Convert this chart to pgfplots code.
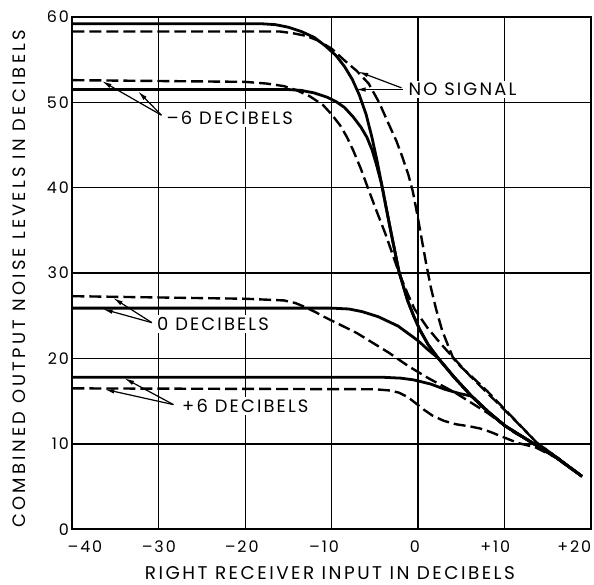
\documentclass[border=0pt]{standalone}
\usepackage{fontspec}
\setmainfont{Poppins}
\newfontfamily\lbl[LetterSpace=12]{Poppins}
\newfontfamily\xlbl[LetterSpace=13.5]{Poppins}
\newfontfamily\ylbl[LetterSpace=18]{Poppins}
\usepackage{pgfplots}
\pgfplotsset{compat=1.18}
\usetikzlibrary{arrows.meta}
\tikzset{
  solidc/.style={black, line width=2.8bp, line join=round},
  dashc/.style={black, line width=2.4bp, line join=round, dash pattern=on 12bp off 5bp},
  ann/.style={-{Latex[length=10bp,width=4.5bp]}, line width=1.2bp, black},
  atext/.style={anchor=west, fill=white, inner sep=2.5bp, font=\lbl\fontsize{18}{20}\selectfont},
}
\newcommand{\tlleft}[2]{\makebox[0pt][c]{#2\kern#1}}
\newcommand{\tlright}[2]{\makebox[0pt][c]{\kern#1#2}}
\begin{document}
\begin{tikzpicture}
\path (-72.5bp,-55bp) rectangle (521.5bp,530bp);
\begin{axis}[
  at={(0,0)}, anchor=south west,
  scale only axis, width=519bp, height=513bp,
  xmin=-40, xmax=20, ymin=0, ymax=60,
  xtick={-40,-30,-20,-10,0,10,20},
  xticklabels={\tlright{25bp}{–40},–30,\tlleft{7bp}{–20},\tlleft{15bp}{–10},\tlleft{6bp}{0},\tlleft{18bp}{+10},\tlleft{33bp}{+20}},
  ytick={0,10,20,30,40,50,60},
  yticklabels={0,10,20,30,40,50,60},
  major tick length=0pt,
  grid=major,
  grid style={black, line width=1.3bp},
  axis line style={black, line width=2.2bp},
  tick label style={font=\lbl\fontsize{16}{18}\selectfont},
  xticklabel style={anchor=center, yshift=-17.5bp},
  xlabel={RIGHT RECEIVER INPUT IN DECIBELS},
  ylabel={COMBINED OUTPUT NOISE LEVELS IN DECIBELS},
  xlabel style={font=\xlbl\fontsize{18.5}{20}\selectfont, inner sep=0pt, at={(axis description cs:0.497,-0.0848)}, anchor=center},
  ylabel style={font=\ylbl\fontsize{18}{20}\selectfont, inner sep=0pt, at={(axis description cs:-0.103,0.489)}, anchor=center},
]
% No signal, solid
\addplot[solidc] coordinates {(-40,59.2) (-18,59.2) (-16.5,59.1) (-15,58.8) (-13.5,58.3) (-12,57.6) (-10.7,56.6) (-9.5,55.5) (-8.5,54.2) (-7.6,52.7) (-6.8,50.9) (-6.0,48.6) (-5.3,45.8) (-4.7,43.0) (-4.2,40.4) (-3.2,35.2) (-2.2,30.2) (-1.2,26.8) (-0.5,25.0) (0.2,23.4) (1.2,21.6) (2.3,20.1) (4.2,17.8) (6.2,15.6) (8.2,13.7) (10.1,12.1) (12.0,10.9) (13.6,9.9) (16.0,8.4) (19.0,6.2)};
% -6 dB, solid
\addplot[solidc] coordinates {(-40,51.5) (-15,51.5) (-13.5,51.4) (-12,51.1) (-10.5,50.6) (-9.5,50.1) (-8.5,49.4) (-7.5,48.3) (-6.6,47.1) (-5.9,45.9) (-5.3,44.4) (-4.8,42.7) (-4.2,40.4) (-3.2,35.2) (-2.2,30.2) (-1.2,26.8) (-0.5,25.0) (0.2,23.4) (1.2,21.6) (2.3,20.1) (4.2,17.8) (6.2,15.6) (8.2,13.7) (10.1,12.1) (12.0,10.9) (13.6,9.9) (16.0,8.4) (19.0,6.2)};
% 0 dB, solid
\addplot[solidc] coordinates {(-40,25.9) (-10,25.9) (-8,25.8) (-6.5,25.5) (-4.6,24.9) (-2.3,23.8) (0,22.1) (1.2,21.0) (2.3,20.1) (4.2,17.8) (6.2,15.6) (8.2,13.7) (10.1,12.1) (12.0,10.9) (13.6,9.9) (16.0,8.4) (19.0,6.2)};
% +6 dB, solid
\addplot[solidc] coordinates {(-40,17.8) (-4,17.8) (-2,17.7) (-0.5,17.5) (1.5,17.0) (3.1,16.4) (4.8,15.9) (6.2,15.6) (8.2,13.7) (10.1,12.1) (12.0,10.9) (13.6,9.9) (16.0,8.4) (19.0,6.2)};
% No signal, dashed
\addplot[dashc] coordinates {(-40,58.3) (-16,58.3) (-14.5,58.1) (-13,57.8) (-11.7,57.3) (-10,56.3) (-8.6,55.0) (-7.1,53.7) (-5.7,52.2) (-4.5,50.0) (-3.4,47.5) (-2.5,45.5) (-1.8,43.6) (-1.1,41.5) (-0.6,39.6) (-0.1,37.0) (0.4,34.2) (0.9,31.4) (1.5,28.3) (2.1,25.8) (2.8,23.3) (3.5,21.5) (4.1,20.0) (5,19.0) (6,18.1) (8,16.2) (10.1,14.0) (12,12.0) (13.8,10.1) (16,8.5) (19,6.2)};
% -6 dB, dashed
\addplot[dashc] coordinates {(-40,52.6) (-20,52.4) (-17.5,52.2) (-15.5,51.9) (-14,51.4) (-12.5,50.7) (-11,49.7) (-10,48.6) (-9,47.3) (-8.2,45.9) (-7.5,44.4) (-6.6,42.2) (-5.8,40.0) (-4.8,37.3) (-3.8,34.7) (-2.9,32.1) (-2.1,29.8) (-1.2,27.6) (-0.4,25.8) (1.1,23.6) (2.5,21.9) (4.0,20.2) (6.0,18.0) (8.3,15.7) (11,13.0) (13.8,10.1) (16,8.5) (19,6.2)};
% 0 dB, dashed
\addplot[dashc] coordinates {(-40,27.3) (-20,27.0) (-15.5,26.8) (-14.2,26.5) (-13,26.0) (-11.8,25.4) (-10.9,24.9) (-7.1,23.0) (-3.4,20.7) (-1.1,19.1) (1.2,17.7) (4.3,16.0) (8.1,13.6) (11.2,11.3) (13.7,9.9) (16,8.5) (19,6.2)};
% +6 dB, dashed
\addplot[dashc] coordinates {(-40,16.5) (-5,16.4) (-3.2,16.25) (-2.2,16.0) (-1.2,15.5) (-0.3,14.8) (0.7,14.0) (1.7,13.3) (3.0,12.7) (4.4,12.3) (6,12.05) (7.2,11.8) (8.4,11.4) (9.6,10.9) (11.6,10.1) (13.6,9.6) (16,8.4) (19,6.2)};

% annotations
\node[atext] at (axis cs:-1.4,51.5) {NO SIGNAL};
\draw[ann] (axis cs:-1.7,51.5) -- (axis cs:-7.2,51.5);
\draw[ann] (axis cs:-1.9,51.7) -- (axis cs:-6.9,53.6);

\node[atext] at (axis cs:-29.4,48.2) {–6 DECIBELS};
\draw[ann] (axis cs:-29.7,48.5) -- (axis cs:-36.6,52.5);
\draw[ann] (axis cs:-29.7,48.5) -- (axis cs:-32.4,51.3);

\node[atext] at (axis cs:-30.5,24.0) {0 DECIBELS};
\draw[ann] (axis cs:-30.8,24.2) -- (axis cs:-35.3,27.1);
\draw[ann] (axis cs:-30.8,24.2) -- (axis cs:-36.5,25.8);

\node[atext] at (axis cs:-27.6,14.4) {+6 DECIBELS};
\draw[ann] (axis cs:-28.3,14.6) -- (axis cs:-34.0,17.7);
\draw[ann] (axis cs:-28.3,14.6) -- (axis cs:-36.3,16.4);
\end{axis}
\end{tikzpicture}
\end{document}
